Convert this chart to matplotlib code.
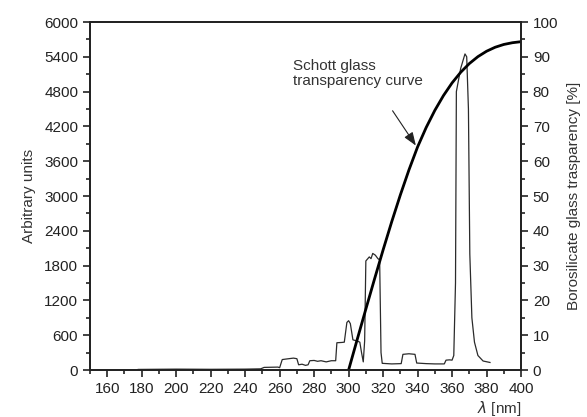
import matplotlib.pyplot as plt
from matplotlib.ticker import MultipleLocator

plt.rcParams['font.family'] = ['Liberation Sans', 'DejaVu Sans']

# measured spectrum (arbitrary units)
wl = [178, 200, 220, 240, 249, 251, 259, 260, 261.5, 264, 268, 270, 271, 273, 275,
      276.5, 277.5, 280, 282, 284, 287, 290, 292.5, 293.2, 296, 297.5, 299, 300,
      301, 302.5, 305, 306.5, 307.5, 308.5, 309.3, 310, 312, 313, 314, 315.5, 317,
      318, 318.8, 319.5, 325, 330.5, 331.5, 335, 338.5, 339.5, 345, 350, 355.5,
      356.5, 358.5, 360, 361, 362, 362.5, 365, 367.5, 368.5, 369.5, 370.3, 371.5,
      373, 375, 378, 382]
counts = [10, 15, 12, 15, 20, 45, 50, 40, 180, 190, 205, 195, 90, 100, 80,
          90, 160, 165, 150, 160, 140, 160, 160, 470, 475, 480, 820, 850,
          800, 520, 500, 480, 300, 140, 500, 1880, 1950, 1920, 2010, 1980, 1920,
          1900, 300, 115, 105, 110, 270, 280, 270, 120, 110, 105, 105,
          170, 175, 170, 250, 1500, 4800, 5200, 5450, 5400, 4500, 2000, 900,
          480, 250, 155, 130]

# Schott glass transparency curve (%)
wl_schott = [300, 305, 310, 315, 320, 325, 330, 335, 340, 345, 350, 355, 360,
             365, 370, 375, 380, 385, 390, 395, 400]
transp = [0, 8.8, 17.5, 26.1, 34.5, 42.6, 50.3, 57.5, 64.1, 69.7, 74.6, 78.85,
          82.5, 85.55, 88.05, 90.05, 91.6, 92.75, 93.55, 94.05, 94.35]

fig = plt.figure(figsize=(5.87, 4.17), dpi=100)
ax = fig.add_axes([0.1533, 0.1127, 0.7343, 0.8345])
ax2 = ax.twinx()

ax.plot(wl, counts, color='#2b2b2b', lw=0.9)
ax2.plot(wl_schott, transp, color='black', lw=2.0)

ax.set_xlim(150, 400)
ax.set_ylim(0, 6000)
ax2.set_ylim(0, 100)

ax.set_xticks(range(160, 401, 20))
ax.xaxis.set_minor_locator(MultipleLocator(10))
ax.set_yticks(range(0, 6001, 600))
ax.yaxis.set_minor_locator(MultipleLocator(300))
ax2.set_yticks(range(0, 101, 10))
ax2.yaxis.set_minor_locator(MultipleLocator(5))

for a in (ax, ax2):
    a.tick_params(which='major', length=5, width=1.2, labelsize=11,
                  colors='#222222', direction='out')
    a.tick_params(which='minor', length=3, width=1.2, direction='out',
                  colors='#222222')
    for s in a.spines.values():
        s.set_linewidth(1.3)
        s.set_color('#222222')

ax.set_ylabel('Arbitrary units', fontsize=11, color='#333333', labelpad=6)
ax2.set_ylabel('Borosilicate glass trasparency [%]', fontsize=11,
               color='#333333', labelpad=6)
ax.set_xlabel(r'$\lambda$ [nm]', fontsize=11, color='#333333', loc='right',
              labelpad=2)

ax2.text(267.7, 89.5, 'Schott glass\ntransparency curve', fontsize=11,
         color='#333333', va='top', ha='left', linespacing=1.1)
ax2.annotate('', xy=(339, 64.5), xytext=(325.5, 74.5),
             arrowprops=dict(arrowstyle='-|>,head_length=0.8,head_width=0.3',
                             color='#222222', lw=0.8, shrinkA=0, shrinkB=0))

fig.savefig('out.png', dpi=100)
